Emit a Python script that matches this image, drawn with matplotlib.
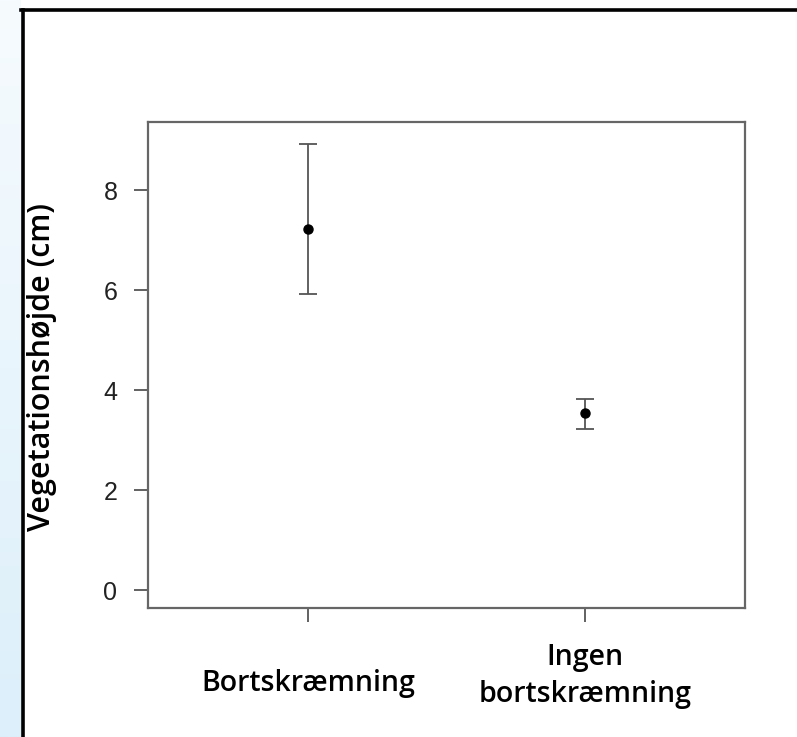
import numpy as np
import matplotlib
matplotlib.use("Agg")
import matplotlib.pyplot as plt
from matplotlib.lines import Line2D
import matplotlib.transforms as mtransforms
from matplotlib.colors import LinearSegmentedColormap

categories = ["Bortskræmning", "Ingen\nbortskræmning"]
means = [7.22, 3.54]
lower = [5.92, 3.22]
upper = [8.92, 3.82]
yticks = [0, 2, 4, 6, 8]
ylabel = "Vegetationshøjde (cm)"

W, H = 797, 737
fig = plt.figure(figsize=(W / 100, H / 100), dpi=100)
fig.patch.set_facecolor("white")

# light blue gradient strip on the left
bg = fig.add_axes([0, 0, 21 / W, 1])
grad = np.linspace(0, 1, 256).reshape(-1, 1)
cm = LinearSegmentedColormap.from_list("b", ["#f6fbfe", "#dcefFA"])
bg.imshow(grad, aspect="auto", cmap=cm, extent=[0, 1, 0, 1], origin="upper")
bg.set_axis_off()

# black frame
fig.add_artist(Line2D([22.5 / W, 22.5 / W], [0, 1 - 9.5 / H], color="black", lw=2.6, transform=fig.transFigure))
fig.add_artist(Line2D([21 / W, 1], [1 - 9.5 / H, 1 - 9.5 / H], color="black", lw=2.6, transform=fig.transFigure))

ax = fig.add_axes([148 / W, 1 - 608 / H, (745 - 148) / W, (608 - 122) / H])
x = np.arange(1, len(categories) + 1)
m = np.array(means)
yerr = np.vstack([m - np.array(lower), np.array(upper) - m])
ax.errorbar(x, m, yerr=yerr, fmt="o", color="black", ms=6.5, ecolor="#555555",
            elinewidth=1.3, capsize=6.5, capthick=1.3)

ax.set_xlim(0.42, 2.58)
ax.set_ylim(-0.36, 9.36)
ax.set_yticks(yticks)
ax.set_yticklabels([str(t) for t in yticks], fontsize=18, family="Liberation Sans", color="#222222")
ax.set_xticks(x)
ax.set_xticklabels([])
for s in ax.spines.values():
    s.set_color("#666666")
    s.set_linewidth(1.6)
ax.tick_params(axis="both", direction="out", length=10, width=1.3, color="#555555")
ax.tick_params(axis="y", pad=12)

ax.set_ylabel(ylabel, fontsize=22, family="Open Sans", fontweight="semibold", color="black")
ax.yaxis.set_label_coords(42 / W, 1 - 367 / H, transform=fig.transFigure)
ax.yaxis.label.set_va("center")

trans = mtransforms.blended_transform_factory(ax.transData, fig.transFigure)
ax.text(x[0], 1 - 683 / H, categories[0], transform=trans, ha="center", va="center",
        fontsize=20.5, family="Open Sans", fontweight="semibold")
ax.text(x[1], 1 - 676 / H, categories[1], transform=trans, ha="center", va="center",
        fontsize=20.5, family="Open Sans", fontweight="semibold", linespacing=1.35)

fig.savefig("out.png", dpi=100)
